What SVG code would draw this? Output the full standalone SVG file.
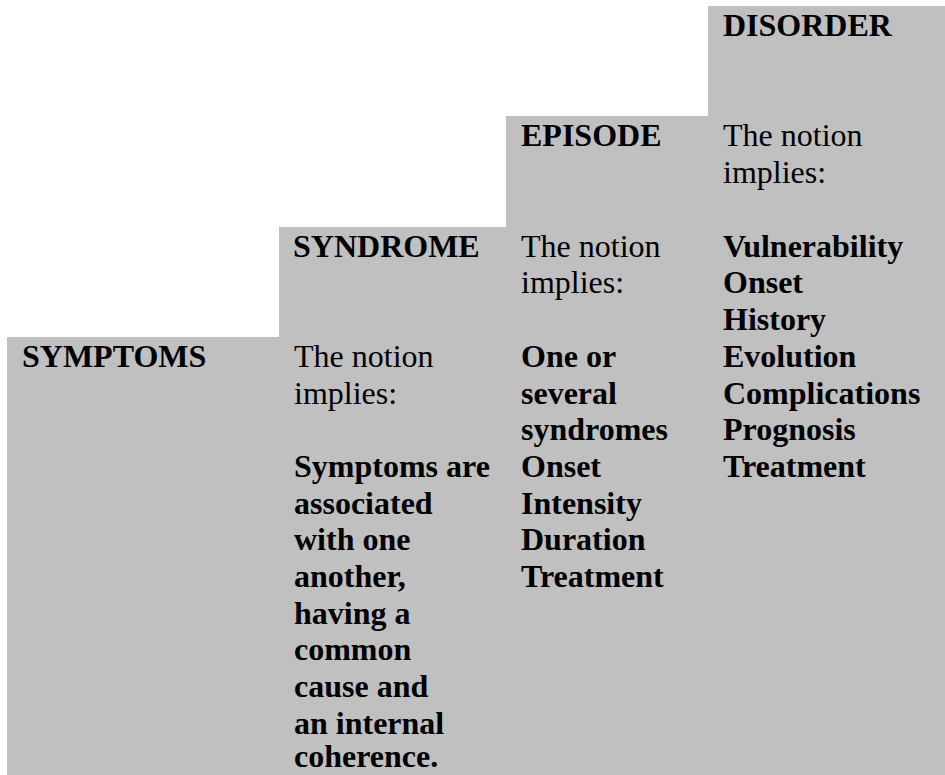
<svg xmlns="http://www.w3.org/2000/svg" width="945" height="775" viewBox="0 0 945 775">
  <style>
    .bg { fill: #C0C0C0; shape-rendering: crispEdges; }
    text { font-family: "Liberation Serif", "Times New Roman", serif; font-size: 32px; fill: #000000; }
    .b { font-weight: bold; }
  </style>
  <rect width="945" height="775" fill="#FFFFFF"/>
  <g id="symptoms">
    <rect class="bg" x="7" y="337" width="273" height="438"/>
    <text class="b" x="22" y="367">SYMPTOMS</text>
  </g>
  <g id="syndrome">
    <rect class="bg" x="279" y="227" width="228" height="548"/>
    <text class="b" x="293" y="257">SYNDROME</text>
    <text x="294" y="367">The notion</text>
    <text x="294" y="404">implies:</text>
    <text class="b" x="294" y="477">Symptoms are</text>
    <text class="b" x="294" y="514">associated</text>
    <text class="b" x="294" y="550">with one</text>
    <text class="b" x="294" y="587">another,</text>
    <text class="b" x="294" y="624">having a</text>
    <text class="b" x="294" y="660">common</text>
    <text class="b" x="294" y="697">cause and</text>
    <text class="b" x="294" y="734">an internal</text>
    <text class="b" x="294" y="767">coherence.</text>
  </g>
  <g id="episode">
    <rect class="bg" x="506" y="116" width="203" height="659"/>
    <text class="b" x="521" y="146">EPISODE</text>
    <text x="521" y="257">The notion</text>
    <text x="521" y="293">implies:</text>
    <text class="b" x="521" y="367">One or</text>
    <text class="b" x="521" y="404">several</text>
    <text class="b" x="521" y="440">syndromes</text>
    <text class="b" x="521" y="477">Onset</text>
    <text class="b" x="521" y="514">Intensity</text>
    <text class="b" x="521" y="550">Duration</text>
    <text class="b" x="521" y="587">Treatment</text>
  </g>
  <g id="disorder">
    <rect class="bg" x="708" y="6" width="237" height="769"/>
    <text class="b" x="723" y="36">DISORDER</text>
    <text x="723" y="146">The notion</text>
    <text x="723" y="183">implies:</text>
    <text class="b" x="723" y="257">Vulnerability</text>
    <text class="b" x="723" y="293">Onset</text>
    <text class="b" x="723" y="330">History</text>
    <text class="b" x="723" y="367">Evolution</text>
    <text class="b" x="723" y="404">Complications</text>
    <text class="b" x="723" y="440">Prognosis</text>
    <text class="b" x="723" y="477">Treatment</text>
  </g>
  <g id="connectors"/>
</svg>
